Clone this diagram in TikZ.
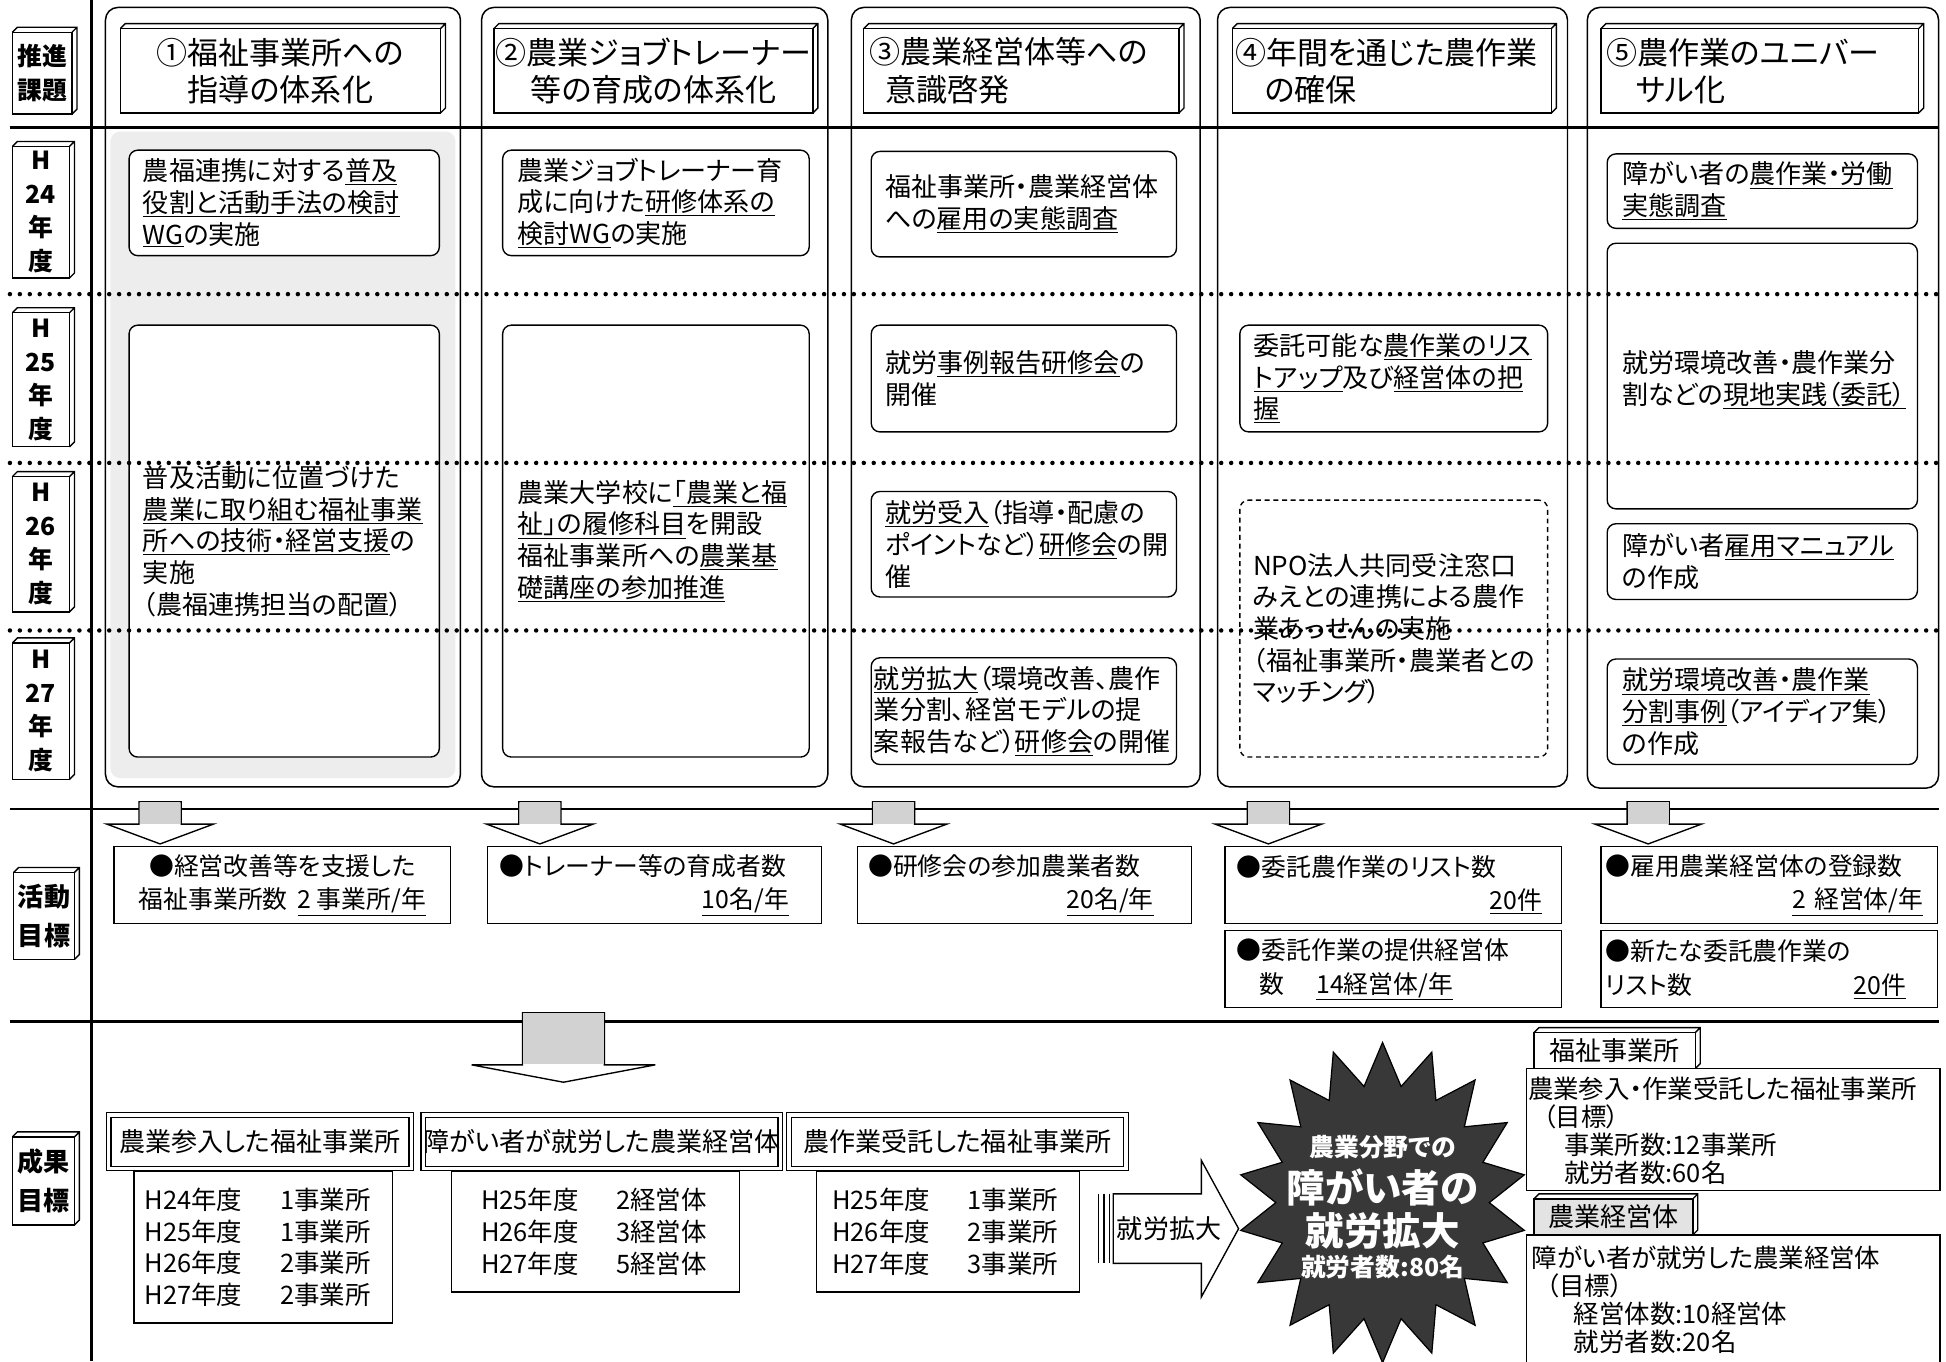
\documentclass[tikz,border=0pt]{standalone}
\usepackage{fontspec}
\usetikzlibrary{calc}
\newfontfamily\jp[RawFeature=+palt]{Noto Sans CJK JP}
\newcommand\fsz[2]{\fontsize{#1}{#2}\selectfont}
\newcommand\uln[1]{\underline{#1}}
\newcommand\bx[6][]{\node[#1,minimum width={#5-#3},minimum height={#6-#4}] (#2) at ({(#3+#5)/2},{(#4+#6)/2}) {};}
\newcommand\ext[1]{\draw[ln] (#1.north west) -- ++(4,-4) -- ($(#1.north east)+(4,-4)$) -- ($(#1.south east)+(4,-4)$) -- (#1.south east) (#1.north east) -- ++(4,-4);}
\newcommand\yr[2]{\makebox[109pt][l]{#1}#2}
\newcommand\darrow[2]{%
  \coordinate (#1) at (#2,646);
  \draw[ln,fill=white] (#1) ++(-17,0) -- ++(34,0) -- ++(0,18) -- ++(26,0) -- ++(-43,16) -- ++(-43,-16) -- ++(26,0) -- cycle;
  \fill[shaft] (#1) ++(-16.4,0.6) rectangle ++(32.8,17);}
\tikzset{
  ln/.style={line width=1.1pt},
  face/.style={draw,line width=1.1pt,fill=white,inner sep=0pt,outer sep=0pt},
  ib/.style={draw,line width=1.1pt,rounded corners=7pt,fill=white,inner sep=0pt,outer sep=0pt},
  db/.style={draw,line width=1.1pt,rounded corners=7pt,fill=white,inner sep=0pt,dash pattern=on 4pt off 3pt},
  colbox/.style={draw,line width=1.2pt,rounded corners=10pt,inner sep=0pt},
  hd/.style={inner sep=0pt,align=center,font=\jp\fsz{25}{30}},
  hdl/.style={inner sep=0pt,align=left,font=\jp\fsz{25}{30}},
  tx/.style={inner sep=0pt,align=left,font=\jp\fsz{21}{25.5}},
  lt/.style={inner sep=0pt,align=center,font=\jp\bfseries\fsz{20}{27}},
  ab/.style={draw,line width=1.1pt,fill=white,inner sep=0pt},
  atx/.style={inner sep=0pt,align=left,font=\jp\fsz{20}{27}},
  rh/.style={draw,line width=0.9pt,double,double distance=3pt,fill=white,inner sep=0pt,font=\jp\fsz{21}{25}},
  rt/.style={inner sep=0pt,align=left,font=\jp\fsz{20.5}{25.7}},
  gt/.style={inner sep=0pt,align=left,font=\jp\fsz{20.5}{22.6}},
  dotln/.style={line width=3.6pt,line cap=round,dash pattern=on 0pt off 8pt},
  shaft/.style={fill=gray!35},
  st/.style={inner sep=0pt,text=white,font=\jp\bfseries\fsz{20}{22}},
}
\begin{document}
\begin{tikzpicture}[x=1pt,y=-1pt]
\useasboundingbox (0,0) rectangle (1568,1097);
\fill[white] (0,0) rectangle (1568,1097);

% ---- structure lines
\coordinate (v0) at (74,0); \coordinate (v1) at (74,1097);
\draw[line width=2.4pt] (v0) -- (v1);
\coordinate (h0a) at (8,103); \coordinate (h0b) at (1562,103);
\draw[line width=2.6pt] (h0a) -- (h0b);
\coordinate (h1a) at (8,652); \coordinate (h1b) at (1562,652);
\draw[line width=2pt] (h1a) -- (h1b);
\coordinate (h2a) at (8,823); \coordinate (h2b) at (1562,823);
\draw[line width=2pt] (h2a) -- (h2b);

% ---- column 1 stipple frame
\fill[gray!14,rounded corners=8pt] (89,106) rectangle (367,627);

% ---- column outer boxes
\bx[colbox]{col1}{85}{6}{371}{634}
\bx[colbox]{col2}{388}{6}{667}{634}
\bx[colbox]{col3}{686}{6}{967}{634}
\bx[colbox]{col4}{981}{6}{1263}{634}
\bx[colbox]{col5}{1279}{6}{1562}{635}

% ---- column headers
\bx[face]{hd1}{97}{23}{355}{91} \ext{hd1}
\node[hd] (hd1t) at (hd1) {①福祉事業所への\\指導の体系化};
\bx[face]{hd2}{398}{23}{655}{91} \ext{hd2}
\node[hd] (hd2t) at (hd2) {②農業ジョブトレーナー\\等の育成の体系化};
\bx[face]{hd3}{696}{23}{950}{91} \ext{hd3}
\node[hdl,anchor=west] (hd3t) at ([xshift=4pt]hd3.west) {③農業経営体等への\\\hspace*{13pt}意識啓発};
\bx[face]{hd4}{993}{23}{1250}{91} \ext{hd4}
\node[hdl,anchor=west] (hd4t) at ([xshift=2pt]hd4.west) {④年間を通じた農作業\\\hspace*{24pt}の確保};
\bx[face]{hd5}{1290}{23}{1546}{91} \ext{hd5}
\node[hdl,anchor=west] (hd5t) at ([xshift=4pt]hd5.west) {⑤農作業のユニバー\\\hspace*{24pt}サル化};

% ---- column 1 boxes
\bx[ib]{c1a}{104}{121}{354}{206}
\node[tx,anchor=west] (c1at) at ([xshift=11pt]c1a.west) {農福連携に対する\uln{普及}\\\uln{役割と活動手法の検討}\\\uln{WG}の実施};
\bx[ib]{c1b}{104}{262}{354}{610}
\node[tx,anchor=west] (c1bt) at ([xshift=11pt]c1b.west) {普及活動に位置づけた\\\uln{農業に取り組む福祉事業}\\\uln{所への技術・経営支援}の\\実施\\（農福連携担当の配置）};

% ---- column 2 boxes
\bx[ib]{c2a}{405}{121}{652}{206}
\node[tx,anchor=west] (c2at) at ([xshift=12pt]c2a.west) {農業ジョブトレーナー育\\成に向けた\uln{研修体系の}\\\uln{検討WG}の実施};
\bx[ib]{c2b}{405}{262}{652}{610}
\node[tx,anchor=west] (c2bt) at ([xshift=12pt]c2b.west) {農業大学校に\uln{「農業と福}\\\uln{祉」の履修科目}を開設\\福祉事業所への\uln{農業基}\\\uln{礎講座の参加推進}};

% ---- column 3 boxes
\bx[ib]{c3a}{702}{122}{948}{207}
\node[tx,anchor=west] (c3at) at ([xshift=11pt]c3a.west) {福祉事業所・農業経営体\\への\uln{雇用の実態調査}};
\bx[ib]{c3b}{702}{262}{948}{348}
\node[tx,anchor=west] (c3bt) at ([xshift=11pt]c3b.west) {就労\uln{事例報告研修会}の\\開催};
\bx[ib]{c3c}{702}{396}{948}{481}
\node[tx,anchor=west] (c3ct) at ([xshift=11pt]c3c.west) {\uln{就労受入}（指導・配慮の\\ポイントなど）\uln{研修会}の開\\催};
\bx[ib]{c3d}{702}{530}{948}{616}
\node[tx,anchor=west] (c3dt) at ([xshift=2pt]c3d.west) {\uln{就労拡大}（環境改善、農作\\業分割、経営モデルの提\\案報告など）\uln{研修会}の開催};

% ---- column 4 boxes
\bx[ib]{c4a}{999}{262}{1247}{348}
\node[tx,anchor=west] (c4at) at ([xshift=11pt]c4a.west) {委託可能な\uln{農作業のリス}\\\uln{トアップ}及び\uln{経営体の把}\\\uln{握}};
\bx[db]{c4b}{999}{403}{1247}{610}
\node[tx,anchor=west] (c4bt) at ([xshift=11pt]c4b.west) {NPO法人共同受注窓口\\みえとの連携による農作\\業あっせんの実施\\（福祉事業所・農業者との\\マッチング）};

% ---- column 5 boxes
\bx[ib]{c5a}{1295}{124}{1545}{184}
\node[tx,anchor=west] (c5at) at ([xshift=12pt]c5a.west) {障がい者の\uln{農作業・労働}\\\uln{実態調査}};
\bx[ib]{c5b}{1295}{196}{1545}{410}
\node[tx,anchor=west] (c5bt) at ([xshift=12pt,yshift=-3pt]c5b.west) {就労環境改善・農作業分\\割などの\uln{現地実践（委託）}};
\bx[ib]{c5c}{1295}{422}{1545}{483}
\node[tx,anchor=west] (c5ct) at ([xshift=12pt]c5c.west) {障がい者\uln{雇用マニュアル}\\の作成};
\bx[ib]{c5d}{1295}{531}{1545}{616}
\node[tx,anchor=west] (c5dt) at ([xshift=12pt]c5d.west) {\uln{就労環境改善・農作業}\\\uln{分割事例}（アイディア集）\\の作成};

% ---- left labels
\bx[face]{lab0}{10}{26}{58}{92} \ext{lab0}
\node[lt] (lab0t) at (lab0) {推進\\課題};
\bx[face]{lab1}{10}{118}{56}{224} \ext{lab1}
\node[lt] (lab1t) at (lab1) {H\\24\\年\\度};
\bx[face]{lab2}{10}{252}{56}{360} \ext{lab2}
\node[lt] (lab2t) at (lab2) {H\\25\\年\\度};
\bx[face]{lab3}{10}{384}{56}{493} \ext{lab3}
\node[lt] (lab3t) at (lab3) {H\\26\\年\\度};
\bx[face]{lab4}{10}{518}{56}{628} \ext{lab4}
\node[lt] (lab4t) at (lab4) {H\\27\\年\\度};
\bx[face]{lab5}{11}{703}{60}{773} \ext{lab5}
\node[lt,font=\jp\bfseries\fsz{21}{31}] (lab5t) at (lab5) {活動\\目標};
\bx[face]{lab6}{10}{916}{60}{987} \ext{lab6}
\node[lt,font=\jp\bfseries\fsz{21}{31}] (lab6t) at (lab6) {成果\\目標};

% ---- down arrows
\darrow{ar1}{129}
\darrow{ar2}{435}
\darrow{ar3}{720}
\darrow{ar4}{1022}
\darrow{ar5}{1328}

% ---- activity targets
\bx[ab]{a1}{92}{682}{363}{744}
\node[atx,align=center] (a1t) at (a1) {●経営改善等を支援した\\福祉事業所数\hspace{8pt}\uln{2 事業所/年}};
\bx[ab]{a2}{393}{682}{662}{744}
\node[atx,anchor=west,text width=233pt] (a2t) at ([xshift=10pt]a2.west) {●トレーナー等の育成者数\\\mbox{}\hfill\uln{10名/年}};
\bx[ab]{a3}{691}{682}{960}{744}
\node[atx,anchor=west,text width=230pt] (a3t) at ([xshift=9pt]a3.west) {●研修会の参加農業者数\\\mbox{}\hfill\uln{20名/年}};
\bx[ab]{a4}{987}{682}{1258}{744}
\node[atx,anchor=west,text width=246pt] (a4t) at ([xshift=10pt]a4.west) {●委託農作業のリスト数\\\mbox{}\hfill\uln{20件}};
\bx[ab]{a4b}{987}{750}{1258}{812}
\node[atx,anchor=west,text width=246pt] (a4bt) at ([xshift=10pt]a4b.west) {●委託作業の提供経営体\\\hspace*{18pt}数\hspace{26pt}\uln{14経営体/年}};
\bx[ab]{a5}{1290}{682}{1561}{744}
\node[atx,anchor=west,text width=256pt] (a5t) at ([xshift=4pt]a5.west) {●雇用農業経営体の登録数\\\mbox{}\hfill\uln{2 経営体/年}};
\bx[ab]{a5b}{1290}{750}{1561}{812}
\node[atx,anchor=west,text width=242pt] (a5bt) at ([xshift=4pt]a5b.west) {●新たな委託農作業の\\リスト数\hfill\uln{20件}};

% ---- big down arrow
\coordinate (ba) at (454,816);
\draw[ln,fill=white] (ba) ++(-33,0) -- ++(66,0) -- ++(0,42) -- ++(41,0) -- ++(-74,14) -- ++(-74,-14) -- ++(41,0) -- cycle;
\fill[shaft] (ba) ++(-32.4,0.6) rectangle ++(64.8,41);

% ---- result boxes
\bx[ab]{d1}{108}{944}{316}{1066}
\node[rt,anchor=west] (d1t) at ([xshift=9pt]d1.west) {\yr{H24年度}{1事業所}\\\yr{H25年度}{1事業所}\\\yr{H26年度}{2事業所}\\\yr{H27年度}{2事業所}};
\bx[ab]{d2}{364}{944}{596}{1041}
\node[rt,anchor=west] (d2t) at ([xshift=24pt]d2.west) {\yr{H25年度}{2経営体}\\\yr{H26年度}{3経営体}\\\yr{H27年度}{5経営体}};
\bx[ab]{d3}{658}{944}{870}{1041}
\node[rt,anchor=west] (d3t) at ([xshift=13pt]d3.west) {\yr{H25年度}{1事業所}\\\yr{H26年度}{2事業所}\\\yr{H27年度}{3事業所}};
\node[rh,minimum width=244pt,minimum height=43pt] (r1) at (209.5,920) {農業参入した福祉事業所};
\node[rh,minimum width=281pt,minimum height=43pt] (r2) at (485,920) {障がい者が就労した農業経営体};
\node[rh,minimum width=272pt,minimum height=43pt] (r3) at (771.5,920) {農作業受託した福祉事業所};

% ---- 就労拡大 arrow
\coordinate (ja) at (897,990);
\draw[ln,fill=white] (ja) ++(0,-28) -- ++(71,0) -- ++(0,-27) -- ++(30,55) -- ++(-30,55) -- ++(0,-27) -- ++(-71,0) -- cycle;
\draw[line width=0.9pt] (ja) ++(-12,-28) -- ++(0,56) (ja) ++(-7.5,-28) -- ++(0,56) (ja) ++(-3,-28) -- ++(0,56);
\node[inner sep=0pt,font=\jp\fsz{21}{24}] (jat) at (942,990) {就労拡大};

% ---- star
\coordinate (sc) at (1114,969);
\filldraw[fill=black!78,draw=black,line width=1pt] plot[samples=37,domain=0:360] ({1114+(mod(round(\x/10),2)==0 ? 116 : 86)*cos(\x+90)},{969-(mod(round(\x/10),2)==0 ? 129 : 95)*sin(\x+90)}) -- cycle;
\node[st] (s1) at (1114,924) {農業分野での};
\node[st,font=\jp\bfseries\fsz{31}{34}] (s2) at (1114,957) {障がい者の};
\node[st,font=\jp\bfseries\fsz{31}{34}] (s3) at (1114,992) {就労拡大};
\node[st] (s4) at (1114,1021) {就労者数:80名};

% ---- right side targets
\bx[ab]{rb1}{1230}{861}{1563}{959}
\node[gt,anchor=west] (rb1t) at (1231,911) {農業参入・作業受託した福祉事業所\\\hspace*{12pt}（目標）\\\hspace*{29pt}事業所数:12事業所\\\hspace*{29pt}就労者数:60名};
\bx[face]{tb1}{1236}{832}{1366}{861} \ext{tb1}
\node[inner sep=0pt,font=\jp\fsz{21}{24}] (tb1t) at (tb1) {福祉事業所};
\bx[ab]{rb2}{1230}{995}{1563}{1115}
\node[gt,anchor=west] (rb2t) at (1234,1047.5) {障がい者が就労した農業経営体\\\hspace*{12pt}（目標）\\\hspace*{34pt}経営体数:10経営体\\\hspace*{34pt}就労者数:20名};
\bx[face,fill=gray!22]{tb2}{1236}{966}{1364}{995} \ext{tb2}
\node[inner sep=0pt,font=\jp\fsz{21}{24}] (tb2t) at (tb2) {農業経営体};

% ---- dotted year separators
\coordinate (p1a) at (8,237); \coordinate (p1b) at (1562,237);
\coordinate (p2a) at (8,373); \coordinate (p2b) at (1562,373);
\coordinate (p3a) at (8,508); \coordinate (p3b) at (1562,508);
\draw[dotln] (p1a) -- (p1b);
\draw[dotln] (p2a) -- (p2b);
\draw[dotln] (p3a) -- (p3b);
\end{tikzpicture}
\end{document}
